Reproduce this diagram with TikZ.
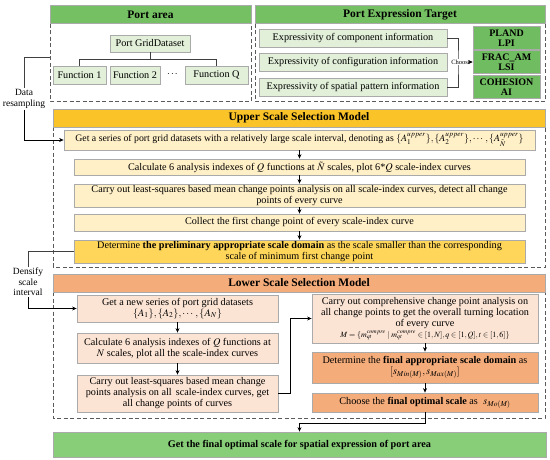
\documentclass[tikz,border=0pt]{standalone}
\usepackage{amsmath}
\usepackage{mathptmx}
\usepackage{fontspec}
\setmainfont{Liberation Serif}
\usepackage{xcolor}
\usetikzlibrary{arrows.meta, positioning, calc}
\definecolor{hdrgreen}{RGB}{118,192,100}
\definecolor{midgreen}{RGB}{112,188,96}
\definecolor{lightgreen}{RGB}{226,239,217}
\definecolor{finalgreen}{RGB}{136,205,120}
\definecolor{hdryellow}{RGB}{250,195,40}
\definecolor{lightyellow}{RGB}{255,240,200}
\definecolor{goldyellow}{RGB}{255,214,90}
\definecolor{hdrorange}{RGB}{244,172,122}
\definecolor{lightorange}{RGB}{252,228,212}
\definecolor{boxline}{RGB}{170,170,170}
\definecolor{framegray}{RGB}{90,90,90}

\begin{document}
\begin{tikzpicture}[
    x=1pt, y=-1pt,
    >={Stealth[length=4.5pt, width=4pt]},
    box/.style={draw=boxline, line width=0.8pt, align=center, inner sep=1pt, font=\fontsize{10.2}{11}\selectfont},
    hdr/.style={draw=boxline, line width=0.6pt, inner sep=0pt, minimum height=18pt, font=\bfseries\fontsize{11.5}{13}\selectfont},
    metric/.style={draw=boxline, line width=0.6pt, fill=midgreen, align=center, inner sep=0pt, minimum width=67pt, minimum height=23pt, font=\bfseries\fontsize{10}{9.5}\selectfont},
    frame/.style={draw=framegray, line width=1pt, dash pattern=on 4pt off 2.5pt},
    note/.style={align=center, inner sep=1pt, font=\fontsize{9.5}{10.5}\selectfont},
    tree/.style={draw=black!75, line width=0.6pt},
    link/.style={->, draw=black, line width=0.6pt},
]
    \useasboundingbox (0,0) rectangle (550,460);

    % port area
    \draw[frame] (50,24) rectangle (251,102);
    \node[hdr, fill=hdrgreen, minimum width=201pt] (hdrport) at (150.5,14.5) {Port area};
    \node[box, fill=lightgreen, minimum width=80pt, minimum height=17pt] (grid) at (150,43.5) {Port GridDataset};
    \node[box, fill=lightgreen, minimum width=53pt, minimum height=18pt] (fun1) at (79.5,75) {Function 1};
    \node[box, fill=lightgreen, minimum width=50pt, minimum height=18pt] (fun2) at (135,75) {Function 2};
    \node[inner sep=0pt] (dots) at (173,74.5) {$\boldsymbol{\cdots}$};
    \node[box, fill=lightgreen, minimum width=63pt, minimum height=18pt] (funq) at (216.5,75) {Function Q};
    \draw[tree] (grid.south) -- ++(0,6.5) coordinate (split);
    \draw[tree] (fun1.north) |- (split) -| (funq.north);

    % expression target
    \draw[frame] (255,24) rectangle (545,102);
    \node[hdr, fill=hdrgreen, minimum width=290pt] (hdrtarget) at (400,14.5) {Port Expression Target};
    \node[box, fill=lightgreen, minimum width=188pt, minimum height=18pt] (expcomp) at (353,38) {Expressivity of component information};
    \node[box, fill=lightgreen, minimum width=188pt, minimum height=18pt] (expconf) at (353,62) {Expressivity of configuration information};
    \node[box, fill=lightgreen, minimum width=188pt, minimum height=18pt] (exppat) at (353,87) {Expressivity of spatial pattern information};
    \coordinate (chx) at (458,62);
    \draw[tree] (expcomp.east) -| (chx) |- (exppat.east);
    \node[fill=white, inner sep=0.3pt, font=\fontsize{6.5}{7}\selectfont] (choose) at (461,62) {Choose};
    \node[metric] (metpland) at (506.5,38) {PLAND\\LPI};
    \node[metric] (metfrac) at (506.5,62) {FRAC\_AM\\LSI};
    \node[metric] (metcoh) at (506.5,87) {COHESION\\AI};
    \draw[link] (choose.east) -- (metfrac.west);

    % upper scale selection model
    \draw[frame] (53,127) rectangle (545,267);
    \node[hdr, fill=hdryellow, minimum width=492pt] (hdrupper) at (299,118) {Upper Scale Selection Model};
    \node[box, fill=lightyellow, minimum width=471pt, minimum height=20pt, font=\fontsize{9.8}{11}\selectfont] (upget) at (299.5,140)
        {Get a series of port grid datasets with a relatively large scale interval, denoting as $\{A_1^{upper}\},\{A_2^{upper}\},\cdots,\{A_{\tilde{N}}^{upper}\}$};
    \node[box, fill=lightyellow, minimum width=451pt, minimum height=16pt] (upcalc) at (299.5,167)
        {Calculate 6 analysis indexes of $Q$ functions at $\tilde{N}$ scales, plot 6*$Q$ scale-index curves};
    \node[box, fill=lightyellow, minimum width=451pt, minimum height=23pt] (upcp) at (299.5,195.5)
        {Carry out least-squares based mean change points analysis on all scale-index curves, detect all change\\points of every curve};
    \node[box, fill=lightyellow, minimum width=451pt, minimum height=17pt] (upfirst) at (299.5,222.5)
        {Collect the first change point of every scale-index curve};
    \node[box, fill=goldyellow, minimum width=451pt, minimum height=23pt] (updomain) at (299.5,251.5)
        {Determine \textbf{the preliminary appropriate scale domain} as the scale smaller than the corresponding\\scale of minimum first change point};
    \draw[link] (upget) -- (upcalc);
    \draw[link] (upcalc) -- (upcp);
    \draw[link] (upcp) -- (upfirst);
    \draw[link] (upfirst) -- (updomain);

    % data resampling
    \coordinate (portleft) at (50,57);
    \node[note] (resample) at (24,99) {Data\\resampling};
    \draw[tree] (portleft) -| (resample.north);
    \draw[link] (resample.south) |- (upget.west);

    % lower scale selection model
    \draw[frame] (53,292) rectangle (545,418);
    \node[hdr, fill=hdrorange, minimum width=492pt] (hdrlower) at (299,283) {Lower Scale Selection Model};
    \node[box, fill=lightorange, minimum width=201pt, minimum height=27pt] (lownew) at (177.5,308.5)
        {Get a new series of port grid datasets\\$\{A_1\},\{A_2\},\cdots,\{A_N\}$};
    \node[box, fill=lightorange, minimum width=201pt, minimum height=30pt] (lowcalc) at (177.5,348)
        {Calculate 6 analysis indexes of $Q$ functions at\\$N$ scales, plot all the scale-index curves};
    \node[box, fill=lightorange, minimum width=201pt, minimum height=37pt] (lowcp) at (177.5,393.5)
        {Carry out least-squares based mean change\\points analysis on all\, scale-index curves, get\\all change points of curves};
    \node[box, fill=lightorange, minimum width=226pt, minimum height=49pt] (lowturn) at (425,318.5)
        {Carry out comprehensive change point analysis on\\all change points to get the overall turning location\\of every curve\\
         {\footnotesize$M=\{m_{qt}^{compre}\mid m_{qt}^{compre}\in[1,N],q\in[1,Q],t\in[1,6]\}$}};
    \node[box, fill=hdrorange, minimum width=226pt, minimum height=31pt] (lowdomain) at (425,367.5)
        {Determine the \textbf{final appropriate scale domain} as\\$[s_{Min(M)},s_{Max(M)}]$};
    \node[box, fill=hdrorange, minimum width=226pt, minimum height=19pt] (lowopt) at (425,402.5)
        {Choose the \textbf{final optimal scale} as\; $s_{Mo(M)}$};
    \draw[link] (lownew) -- (lowcalc);
    \draw[link] (lowcalc) -- (lowcp);
    \draw[link] (lowturn) -- (lowdomain);
    \draw[link] (lowdomain) -- (lowopt);
    \draw[link] (lowcp.east) -- ++(12,0) |- (lowturn.west);

    % densify
    \node[note] (densify) at (28,282) {Densify\\scale\\interval};
    \draw[tree] (updomain.west) -| (densify.north);
    \draw[link] (densify.south) |- (lownew.west);

    % final result
    \node[box, fill=finalgreen, minimum width=493pt, minimum height=25pt, font=\bfseries\fontsize{10.2}{11}\selectfont] (final) at (299.5,444.5)
        {Get the final optimal scale for spatial expression of port area};
    \draw[link] (lowopt.south) -- ++(0,10.5) -| (final.north);
\end{tikzpicture}
\end{document}
